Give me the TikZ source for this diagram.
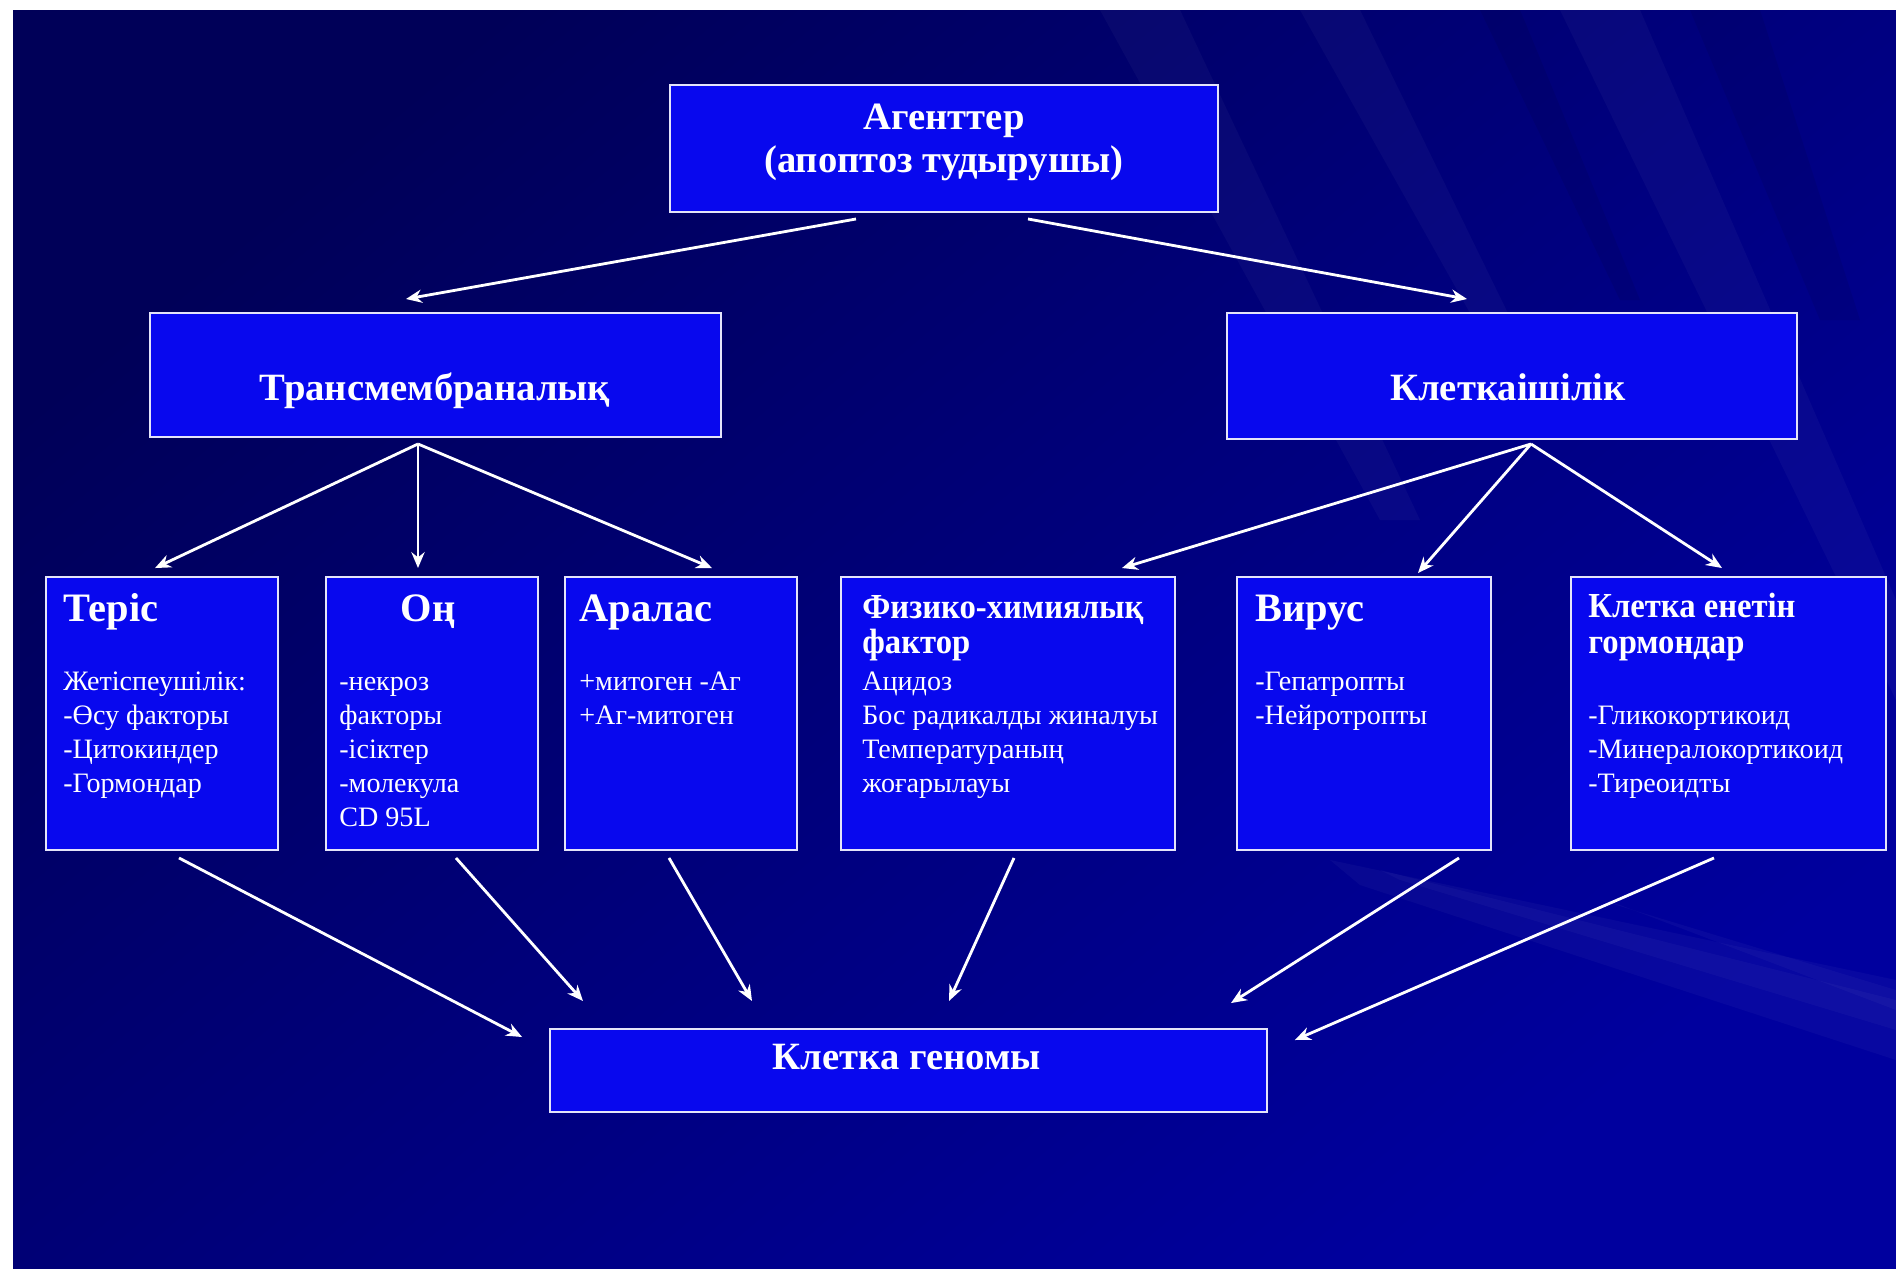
\documentclass[tikz,border=0pt]{standalone}
\usepackage{fontspec}
\setmainfont{Liberation Serif}
\newfontfamily\condserif[FakeStretch=0.93]{Liberation Serif}
\usetikzlibrary{arrows.meta}
\definecolor{boxblue}{RGB}{8,8,238}
\definecolor{boxline}{RGB}{228,228,250}
\definecolor{bgA}{RGB}{0,0,88}
\definecolor{bgB}{RGB}{0,0,158}
\begin{document}
\begin{tikzpicture}[x=0.02cm,y=-0.02cm,
  box/.style={draw=boxline, line width=1.4pt, fill=boxblue, inner sep=0pt, outer sep=0pt},
  head/.style={text=white, font=\fontsize{22}{26}\selectfont\bfseries, inner sep=0pt},
  subhead/.style={text=white, font=\fontsize{23}{27}\selectfont\bfseries, inner sep=0pt, anchor=base west},
  subheadc/.style={text=white, font=\condserif\fontsize{20}{24}\selectfont\bfseries, inner sep=0pt, anchor=base west},
  body/.style={text=white, font=\fontsize{16}{19}\selectfont, inner sep=0pt, anchor=base west},
  arr/.style={draw=white, line width=1.6pt, -{Stealth[length=9pt,width=7.5pt]}},
  streak/.style={fill=white, opacity=0.03},
  dstreak/.style={fill=black, opacity=0.07}
]
% background
\useasboundingbox (0,0) rectangle (1896,1268);
\fill[white] (0,0) rectangle (1896,1268);
\shade[top color=bgA, bottom color=bgB, shading angle=40] (13,10) rectangle (1896,1268);
% faint streaks
\begin{scope}
\clip (13,10) rectangle (1896,1268);
\fill[streak] (1330,860) -- (1896,980) -- (1896,1060) -- (1360,885) -- cycle;
\fill[streak] (1380,870) -- (1896,1000) -- (1896,1030) -- (1400,880) -- cycle;
\fill[streak] (1600,900) -- (1896,990) -- (1896,1010) -- (1620,905) -- cycle;
\fill[streak] (1100,10) -- (1180,10) -- (1420,520) -- (1380,520) -- cycle;
\fill[streak] (1300,10) -- (1360,10) -- (1560,420) -- (1530,420) -- cycle;
\fill[streak] (1560,10) -- (1640,10) -- (1896,600) -- (1896,700) -- cycle;
\fill[dstreak] (1690,10) -- (1760,10) -- (1860,320) -- (1820,320) -- cycle;
\fill[dstreak] (1480,10) -- (1520,10) -- (1640,300) -- (1620,300) -- cycle;
\end{scope}
% boxes
\node[box, minimum width=10.96cm, minimum height=2.54cm] (top) at (944,148.5) {};
\node[box, minimum width=11.42cm, minimum height=2.48cm] (trans) at (435.5,375) {};
\node[box, minimum width=11.40cm, minimum height=2.52cm] (kl) at (1512,376) {};
\node[box, minimum width=4.64cm, minimum height=5.46cm] (teris) at (162,713.5) {};
\node[box, minimum width=4.24cm, minimum height=5.46cm] (on) at (432,713.5) {};
\node[box, minimum width=4.64cm, minimum height=5.46cm] (aralas) at (681,713.5) {};
\node[box, minimum width=6.68cm, minimum height=5.46cm] (fiz) at (1008,713.5) {};
\node[box, minimum width=5.08cm, minimum height=5.46cm] (vir) at (1364,713.5) {};
\node[box, minimum width=6.30cm, minimum height=5.46cm] (gorm) at (1728.5,713.5) {};
\node[box, minimum width=14.34cm, minimum height=1.66cm] (gen) at (908.5,1070.5) {};
% big-box texts
\node[head, anchor=base] (topT1) at (944,129) {Агенттер};
\node[head, anchor=base] (topT2) at (944,172) {(апоптоз тудырушы)};
\node[head, anchor=base] (transT) at (435,400) {Трансмембраналық};
\node[head, anchor=base] (klT) at (1508,400) {Клеткаішілік};
\node[head, anchor=base] (genT) at (907,1069) {Клетка геномы};
% small-box titles
\node[subhead] (terisT) at (63,621) {Теріс};
\node[subhead, anchor=base] (onT) at (428,621) {Оң};
\node[subhead] (aralasT) at (579,621) {Аралас};
\node[subheadc] (fizT1) at (862,618) {Физико-химиялық};
\node[subheadc] (fizT2) at (862,653) {фактор};
\node[subhead] (virT) at (1255,621) {Вирус};
\node[subheadc] (gormT1) at (1588,617) {Клетка енетін};
\node[subheadc] (gormT2) at (1588,653) {гормондар};
% body lines
\foreach \t [count=\i] in {Жетіспеушілік:, -Өсу факторы, -Цитокиндер, -Гормондар}
  \node[body] (terisB\i) at (63,{690+34*(\i-1)}) {\t};
\foreach \t [count=\i] in {-некроз, факторы, -ісіктер, -молекула, CD 95L}
  \node[body] (onB\i) at (339,{690+34*(\i-1)}) {\t};
\foreach \t [count=\i] in {+митоген -Аг, +Аг-митоген}
  \node[body] (aralasB\i) at (579,{690+34*(\i-1)}) {\t};
\foreach \t [count=\i] in {Ацидоз, Бос радикалды жиналуы, Температураның, жоғарылауы}
  \node[body] (fizB\i) at (862,{690+34*(\i-1)}) {\t};
\foreach \t [count=\i] in {-Гепатропты, -Нейротропты}
  \node[body] (virB\i) at (1255,{690+34*(\i-1)}) {\t};
\foreach \t [count=\i] in {-Гликокортикоид, -Минералокортикоид, -Тиреоидты}
  \node[body] (gormB\i) at (1588,{724+34*(\i-1)}) {\t};
% arrows
\draw[arr] ([shift={(-88,7)}]top.south) -- ([shift={(-29.5,-14)}]trans.north);
\draw[arr] ([shift={(84,7)}]top.south) -- ([shift={(-45,-14)}]kl.north);
\draw[arr] ([shift={(-17.5,7)}]trans.south) -- ([shift={(-7,-9)}]teris.north);
\draw[arr] ([shift={(-17.5,7)}]trans.south) -- ([shift={(-14,-9)}]on.north);
\draw[arr] ([shift={(-17.5,7)}]trans.south) -- ([shift={(31,-9)}]aralas.north);
\draw[arr] ([shift={(19,5)}]kl.south) -- ([shift={(114,-9)}]fiz.north);
\draw[arr] ([shift={(19,5)}]kl.south) -- ([shift={(54,-4)}]vir.north);
\draw[arr] ([shift={(19,5)}]kl.south) -- ([shift={(-6.5,-9)}]gorm.north);
\draw[arr] ([shift={(17,8)}]teris.south) -- ([shift={(-28,8)}]gen.north west);
\draw[arr] ([shift={(24,8)}]on.south) -- ([shift={(-325.5,-28)}]gen.north);
\draw[arr] ([shift={(-12,8)}]aralas.south) -- ([shift={(-156.5,-28)}]gen.north);
\draw[arr] ([shift={(6,8)}]fiz.south) -- ([shift={(40.5,-28)}]gen.north);
\draw[arr] ([shift={(95,8)}]vir.south) -- ([shift={(322.5,-26)}]gen.north);
\draw[arr] ([shift={(-14.5,8)}]gorm.south) -- ([shift={(28,11)}]gen.north east);
\end{tikzpicture}
\end{document}
